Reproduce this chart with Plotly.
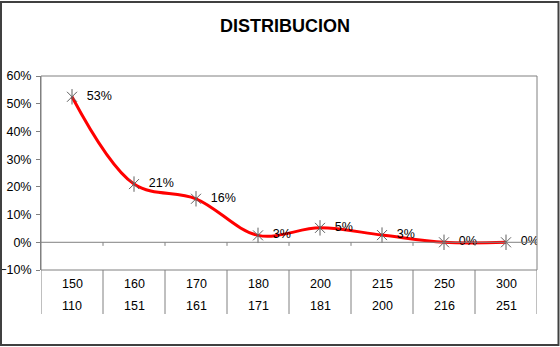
import plotly.graph_objects as go

top_labels = ["150", "160", "170", "180", "200", "215", "250", "300"]
bottom_labels = ["110", "151", "161", "171", "181", "200", "216", "251"]
values = [0.525, 0.21, 0.157, 0.025, 0.052, 0.026, 0.0, 0.0]
value_labels = ["53%", "21%", "16%", "3%", "5%", "3%", "0%", "0%"]
title_text = "DISTRIBUCION"

xs = list(range(len(values)))
FONT = "Liberation Sans, Arial, sans-serif"
GRAY = "#808080"
MK = "#606060"

fig = go.Figure()
fig.add_trace(go.Scatter(x=xs, y=values, mode="lines",
                         line=dict(color="#ff0000", width=3, shape="spline", smoothing=1.0),
                         hoverinfo="skip"))
fig.add_trace(go.Scatter(x=xs, y=values, mode="markers",
                         marker=dict(symbol="x-thin-open", size=10, color=MK, line=dict(color=MK, width=1))))
fig.add_trace(go.Scatter(x=xs, y=values, mode="markers+text",
                         marker=dict(symbol="line-ns-open", size=11, color=MK, line=dict(color=MK, width=1)),
                         text=["  " + t for t in value_labels], textposition="middle right",
                         textfont=dict(family=FONT, size=12.5, color="black")))

shapes = []
shapes.append(dict(type="rect", xref="paper", yref="paper", x0=0, x1=1, y0=0, y1=1,
                   line=dict(color=GRAY, width=1)))
shapes.append(dict(type="line", xref="x", yref="y", x0=-0.5, x1=len(xs) - 0.5, y0=0, y1=0,
                   line=dict(color=GRAY, width=1)))
n = len(xs)
for k in range(1, n):
    shapes.append(dict(type="line", xref="x", yref="y", x0=k - 0.5, x1=k - 0.5, y0=0, y1=-0.013,
                       line=dict(color=GRAY, width=1)))
for k in range(0, n + 1):
    shapes.append(dict(type="line", xref="x", yref="paper", x0=k - 0.5, x1=k - 0.5, y0=0, y1=-44 / 194,
                       line=dict(color=GRAY, width=1)))
shapes.append(dict(type="rect", xref="paper", yref="paper",
                   x0=-40 / 496, x1=(558.5 - 41) / 496, y0=-(345 - 270) / 194, y1=(270 - 2) / 194,
                   line=dict(color="#404040", width=2)))

annotations = []
for i in xs:
    annotations.append(dict(x=i, y=-14 / 194, xref="x", yref="paper", text=top_labels[i],
                            showarrow=False, font=dict(family=FONT, size=12.5, color="black"),
                            yanchor="middle"))
    annotations.append(dict(x=i, y=-36 / 194, xref="x", yref="paper", text=bottom_labels[i],
                            showarrow=False, font=dict(family=FONT, size=12.5, color="black"),
                            yanchor="middle"))

fig.update_layout(
    width=560, height=347,
    margin=dict(l=41, r=23, t=76, b=77, autoexpand=False),
    paper_bgcolor="white", plot_bgcolor="white",
    showlegend=False,
    title=dict(text="<b>" + title_text + "</b>", x=285 / 560, xanchor="center",
               y=1 - 26 / 347, yanchor="middle",
               font=dict(family=FONT, size=18, color="black")),
    xaxis=dict(range=[-0.5, n - 0.5], showgrid=False, zeroline=False, showticklabels=False,
               showline=False, fixedrange=True, automargin=False),
    yaxis=dict(range=[-0.1, 0.6], dtick=0.1, tickformat=".0%", showgrid=False, zeroline=False,
               showline=True, linecolor=GRAY, ticks="outside", ticklen=4, tickcolor=GRAY,
               ticklabelstandoff=2, automargin=False,
               tickfont=dict(family=FONT, size=12.5, color="black")),
    shapes=shapes, annotations=annotations,
)

fig.write_html("out.html")
